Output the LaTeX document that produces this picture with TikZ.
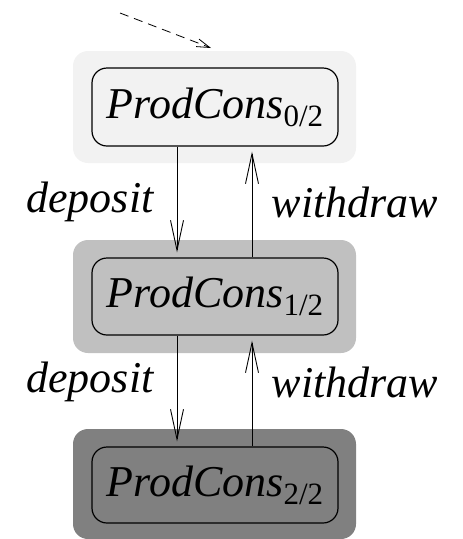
\documentclass[tikz,border=0pt]{standalone}
\usepackage{fontspec}
\setmainfont{Liberation Serif}
\usetikzlibrary{arrows.meta}
\definecolor{shadeA}{HTML}{F2F2F2}
\definecolor{shadeB}{HTML}{C0C0C0}
\definecolor{shadeC}{HTML}{808080}
\newcommand{\pcname}[1]{\itshape ProdCons\raisebox{-8pt}{\upshape\fontsize{31}{31}\selectfont #1}}
\tikzset{
  outerbox/.style={rounded corners=15pt, minimum width=283pt, inner sep=0pt},
  innerbox/.style={draw, line width=1.2pt, rounded corners=15pt, minimum width=246pt, inner sep=0pt, font=\fontsize{44}{44}\selectfont},
  trans/.style={-{Straight Barb[length=30pt,width=13pt]}, line width=0.9pt, shorten >=5pt},
  lbl/.style={font=\fontsize{44}{44}\selectfont\itshape, inner sep=0pt}
}
\begin{document}
\begin{tikzpicture}[x=1pt,y=-1pt]
\useasboundingbox (0,0) rectangle (463,539);
\node[outerbox, fill=shadeA, minimum height=112pt] (o0) at (214.5,107) {};
\node[outerbox, fill=shadeB, minimum height=113pt] (o1) at (214.5,296.5) {};
\node[outerbox, fill=shadeC, minimum height=110pt] (o2) at (214.5,484) {};
\node[innerbox, minimum height=78pt] (n0) at (215,107) {\pcname{0/2}};
\node[innerbox, minimum height=77pt] (n1) at (215,296.5) {\pcname{1/2}};
\node[innerbox, minimum height=76pt] (n2) at (215,485) {\pcname{2/2}};
\coordinate (start) at (120,13);
\draw[line width=0.8pt, dash pattern=on 9pt off 6pt, -{Straight Barb[length=13pt,width=8pt]}] (start) -- (211,48);
\draw[trans] ([xshift=-38pt]n0.south) -- ([xshift=-38pt]n1.north);
\draw[trans] ([xshift=37pt]n1.north) -- ([xshift=37pt]n0.south);
\draw[trans] ([xshift=-38pt]n1.south) -- ([xshift=-38pt]n2.north);
\draw[trans] ([xshift=37pt]n2.north) -- ([xshift=37pt]n1.south);
\node[lbl] (d1) at (90,202) {deposit};
\node[lbl] (w1) at (355,202) {withdraw};
\node[lbl] (d2) at (90,382) {deposit};
\node[lbl] (w2) at (355,382) {withdraw};
\end{tikzpicture}
\end{document}
